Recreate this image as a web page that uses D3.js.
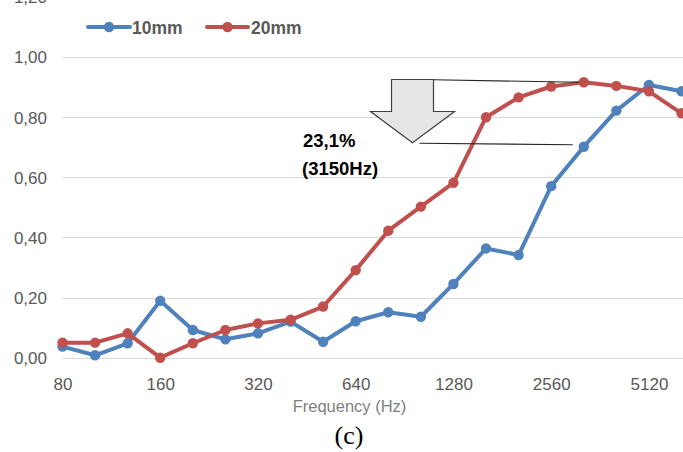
<!DOCTYPE html>
<html>
<head>
<meta charset="utf-8">
<script src="https://cdn.jsdelivr.net/npm/d3@7"></script>
<style>
  html, body { margin: 0; padding: 0; background: #fff; overflow: hidden; }
  svg { display: block; }
</style>
</head>
<body>
<svg id="chart" width="683" height="452"></svg>
<script>
// ---------- data ----------
const frequencies = [80, 100, 125, 160, 200, 250, 315, 400, 500, 630, 800, 1000, 1250, 1600, 2000, 2500, 3150, 4000, 5000, 6300];
const tickCategories = [80, 160, 315, 630, 1250, 2500, 5000];
const tickLabels = ["80", "160", "320", "640", "1280", "2560", "5120"];
const series10mm = [0.037, 0.008, 0.048, 0.189, 0.092, 0.061, 0.081, 0.120, 0.053, 0.121, 0.151, 0.136, 0.245, 0.363, 0.341, 0.570, 0.701, 0.821, 0.906, 0.885];
const series20mm = [0.050, 0.050, 0.081, 0.000, 0.048, 0.092, 0.114, 0.126, 0.170, 0.291, 0.422, 0.502, 0.581, 0.799, 0.865, 0.901, 0.915, 0.903, 0.885, 0.812];
const yTicks = [0, 0.2, 0.4, 0.6, 0.8, 1.0, 1.2];
const seriesNames = ["10mm", "20mm"];
const seriesColors = ["#4F81BD", "#C0504D"];
const annotationLines = ["23,1%", "(3150Hz)"];
const annotationFreq = 3150;

// ---------- layout ----------
const svg = d3.select("#chart");
const x = d3.scalePoint().domain(frequencies).range([62.5, 681.5]);
const y = d3.scaleLinear().domain([0, 1.2]).range([357.7, -3.5]);
const gridX0 = 62, gridX1 = 683;
const fmt = v => d3.format(".2f")(v).replace(".", ",");
const font = "'Liberation Sans', Arial, sans-serif";

// gridlines
svg.append("g").selectAll("line").data(yTicks).join("line")
  .attr("x1", gridX0).attr("x2", gridX1)
  .attr("y1", d => Math.round(y(d)) + 0.5).attr("y2", d => Math.round(y(d)) + 0.5)
  .attr("stroke", "#d9d9d9").attr("stroke-width", 1);

// y axis labels
const yAxis = d3.axisLeft(y).tickValues(yTicks).tickFormat(fmt).tickSize(0).tickPadding(0);
const gy = svg.append("g").attr("transform", "translate(47,0)").call(yAxis);
gy.select(".domain").remove();
gy.selectAll("text").attr("font-family", font).attr("font-size", 17).attr("fill", "#595959").attr("dy", "0.36em");

// x axis labels
const xAxis = d3.axisBottom(x).tickValues(tickCategories)
  .tickFormat(d => tickLabels[tickCategories.indexOf(d)]).tickSize(0).tickPadding(0);
const gx = svg.append("g").attr("transform", "translate(0,376)").call(xAxis);
gx.select(".domain").remove();
gx.selectAll("text").attr("font-family", font).attr("font-size", 17).attr("fill", "#595959").attr("dy", "0.8em");

// axis title
svg.append("text").attr("x", 349.5).attr("y", 411.5).attr("text-anchor", "middle")
  .attr("font-family", font).attr("font-size", 16.5).attr("fill", "#7f7f7f").text("Frequency (Hz)");

// caption
svg.append("text").attr("x", 349).attr("y", 444).attr("text-anchor", "middle")
  .attr("font-family", "'Liberation Serif', 'Times New Roman', serif").attr("font-size", 26).attr("fill", "#000").text("(c)");

// partial label of the next chart at the bottom edge
svg.append("text").attr("x", 47).attr("y", 464).attr("text-anchor", "end")
  .attr("font-family", font).attr("font-size", 17).attr("fill", "#595959").text(fmt(1.2));

// ---------- series ----------
const allSeries = [series10mm, series20mm];
const line = d3.line().x((d, i) => x(frequencies[i])).y(d => y(d));
allSeries.forEach((vals, s) => {
  const g = svg.append("g");
  g.append("path").datum(vals).attr("d", line).attr("fill", "none")
    .attr("stroke", seriesColors[s]).attr("stroke-width", 4).attr("stroke-linejoin", "round").attr("stroke-linecap", "round");
  g.selectAll("circle").data(vals).join("circle")
    .attr("cx", (d, i) => x(frequencies[i])).attr("cy", d => y(d)).attr("r", 5.2)
    .attr("fill", seriesColors[s]);
});

// ---------- legend ----------
const legendItems = [{ x0: 88, x1: 130, tx: 132 }, { x0: 207, x1: 248, tx: 251 }];
legendItems.forEach((it, s) => {
  const g = svg.append("g");
  g.append("line").attr("x1", it.x0).attr("x2", it.x1).attr("y1", 27).attr("y2", 27)
    .attr("stroke", seriesColors[s]).attr("stroke-width", 4).attr("stroke-linecap", "round");
  g.append("circle").attr("cx", (it.x0 + it.x1) / 2).attr("cy", 27).attr("r", 5.2).attr("fill", seriesColors[s]);
  g.append("text").attr("x", it.tx).attr("y", 33.5).attr("font-family", font).attr("font-size", 17.5)
    .attr("font-weight", "bold").attr("fill", "#595959").text(seriesNames[s]);
});

// ---------- annotation ----------
const iAnn = frequencies.indexOf(annotationFreq);
const topY = y(series20mm[iAnn]);
const botY = y(series10mm[iAnn]);
const ax = 412.5; // arrow centre
const arrow = [
  [ax - 21, 79.5], [ax + 21, 79.5], [ax + 21, 111.5], [ax + 42, 111.5],
  [ax, 142.7], [ax - 42, 111.5], [ax - 21, 111.5]
];
svg.append("polygon").attr("points", arrow.map(p => p.join(",")).join(" "))
  .attr("fill", "#e6e6e6").attr("stroke", "#404040").attr("stroke-width", 1.2);
svg.append("line").attr("x1", ax + 21).attr("y1", 79.8).attr("x2", x(annotationFreq) - 5).attr("y2", topY)
  .attr("stroke", "#262626").attr("stroke-width", 1.1);
svg.append("line").attr("x1", ax + 7).attr("y1", 143.3).attr("x2", x(annotationFreq) - 11).attr("y2", botY - 2)
  .attr("stroke", "#262626").attr("stroke-width", 1.1);
svg.append("text").attr("x", 303).attr("y", 147).attr("font-family", font).attr("font-size", 18.5)
  .attr("font-weight", "bold").attr("fill", "#000").text(annotationLines[0]);
svg.append("text").attr("x", 302).attr("y", 175).attr("font-family", font).attr("font-size", 18.5)
  .attr("font-weight", "bold").attr("fill", "#000").text(annotationLines[1]);
</script>
</body>
</html>
